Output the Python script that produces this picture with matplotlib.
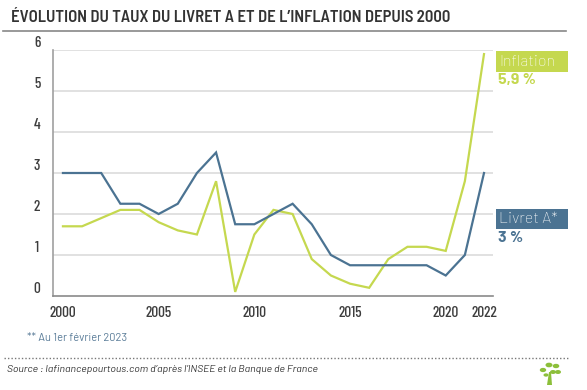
import matplotlib
matplotlib.use("Agg")
import matplotlib.pyplot as plt
from matplotlib.patches import Rectangle, Circle, Polygon

# data
years = list(range(2000, 2023))
livret_a = [3.0, 3.0, 3.0, 2.25, 2.25, 2.0, 2.25, 3.0, 3.5, 1.75, 1.75, 2.0,
            2.25, 1.75, 1.0, 0.75, 0.75, 0.75, 0.75, 0.75, 0.5, 1.0, 3.0]
inflation = [1.7, 1.7, 1.9, 2.1, 2.1, 1.8, 1.6, 1.5, 2.8, 0.1, 1.5, 2.1,
             2.0, 0.9, 0.5, 0.3, 0.2, 0.9, 1.2, 1.2, 1.1, 2.8, 5.9]
xticks = [2000, 2005, 2010, 2015, 2020, 2022]
yticks = [0, 1, 2, 3, 4, 5, 6]

GREEN = "#c5d84f"
BLUE = "#4b7392"
DARK = "#3d3d3d"

COND = ["Barlow Condensed", "DejaVu Sans"]
SEMI = ["Barlow Semi Condensed", "DejaVu Sans"]
PLAIN = ["Barlow", "Liberation Sans", "DejaVu Sans"]

W, H = 587, 390
fig = plt.figure(figsize=(W / 100, H / 100), dpi=100)

def px(x, y):
    return x / W, 1 - y / H

# axes box in pixels: left 53, right 493, top 50, bottom 296
ax = fig.add_axes([53 / W, 1 - 296 / H, (493 - 53) / W, (296 - 50) / H])
ax.set_xlim(1999.48, 2022.47)
ax.set_ylim(0, 6)

for v in yticks[1:]:
    ax.axhline(v, color="#dcdcdc", lw=1.2, zorder=0)
for v in yticks:
    ax.text(-0.036, v + 0.17, str(v), transform=ax.get_yaxis_transform(),
            ha="center", va="center", fontsize=11, color=DARK, family=COND,
            fontweight="medium")

ax.plot(years, inflation, color=GREEN, lw=1.6, zorder=3, solid_joinstyle="miter")
ax.plot(years, livret_a, color=BLUE, lw=1.6, zorder=4, solid_joinstyle="miter")

ax.set_xticks(xticks)
ax.set_xticklabels([str(t) for t in xticks], family=COND, fontsize=11,
                   color=DARK, fontweight="medium")
ax.tick_params(axis="x", length=0, pad=7)
ax.set_yticks([])
for s in ["top", "right"]:
    ax.spines[s].set_visible(False)
ax.spines["left"].set_color("#a0a0a0")
ax.spines["bottom"].set_color("#8a8a8a")
ax.spines["left"].set_linewidth(1.2)
ax.spines["bottom"].set_linewidth(1.2)

# title and separator
fig.text(*px(11, 17), "ÉVOLUTION DU TAUX DU LIVRET A ET DE L’INFLATION DEPUIS 2000",
         ha="left", va="center", fontsize=12, fontweight="semibold", color="#333333",
         family=SEMI)
fig.add_artist(plt.Line2D([3 / W, 566 / W], [1 - 31 / H] * 2, color="#888888", lw=1.2))

# end labels
fig.add_artist(Rectangle(px(496, 72), 72 / W, 21 / H, color=GREEN, lw=0))
fig.text(*px(499, 61.5), "Inflation", ha="left", va="center", fontsize=11.5,
         color="white", family=PLAIN, fontweight="light")
fig.text(*px(498, 80), "5,9 %", ha="left", va="center", fontsize=11.5,
         fontweight="bold", color=GREEN, family=PLAIN)
fig.add_artist(Rectangle(px(496, 229), 72 / W, 20 / H, color=BLUE, lw=0))
fig.text(*px(499, 219), "Livret A*", ha="left", va="center", fontsize=11.5,
         color="white", family=PLAIN, fontweight="light")
fig.text(*px(498, 238), "3 %", ha="left", va="center", fontsize=11.5,
         fontweight="bold", color=BLUE, family=PLAIN)

# footnote and source
fig.text(*px(27, 338), "** Au 1er février 2023", ha="left", va="center",
         fontsize=8, color="#5b7d99", family=PLAIN)
fig.add_artist(plt.Line2D([4 / W, 568 / W], [1 - 358 / H] * 2, color="#777777",
                          lw=1, linestyle=(0, (1, 1.5))))
fig.text(*px(7, 369), "Source : lafinancepourtous.com d’après l’INSEE et la Banque de France",
         ha="left", va="center", fontsize=7.5, style="italic", color="#333333",
         family=PLAIN)

# small tree logo
LOGO = "#8cbf3a"
fig.add_artist(Polygon([px(547, 385), px(552, 385), px(551, 372), px(549, 372)],
                       closed=True, color=LOGO, lw=0))
for cx, cy, r in [(543, 370, 3.2), (549, 365, 3.5), (556, 366, 3.3), (558, 372, 3),
                  (546, 375, 2.5), (553, 372, 3)]:
    fig.add_artist(Circle(px(cx, cy), r / W, color=LOGO, lw=0))

fig.savefig("out.png", dpi=100)
